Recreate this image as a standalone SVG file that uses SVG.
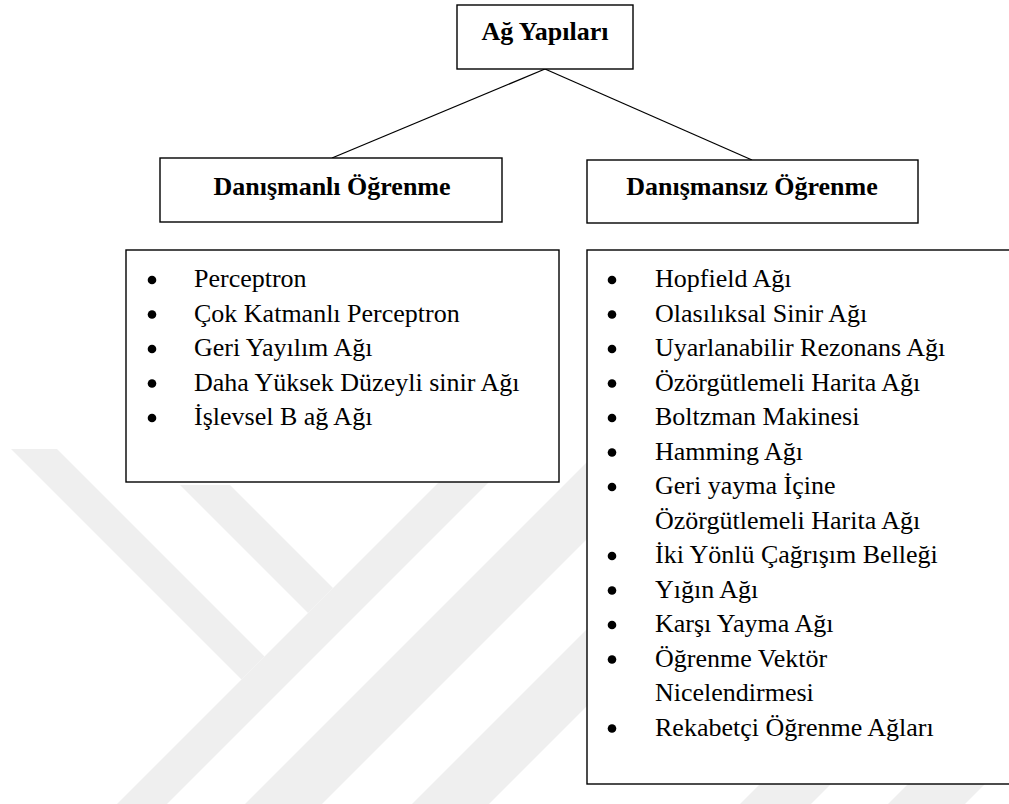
<svg xmlns="http://www.w3.org/2000/svg" width="1009" height="804" viewBox="0 0 1009 804">
  <style>
    .box { fill: #ffffff; stroke: #000000; stroke-width: 1.4; }
    .head { font-family: "Liberation Serif", "Times New Roman", serif; font-weight: bold; font-size: 26px; fill: #000; text-anchor: middle; }
    .item { font-family: "Liberation Serif", "Times New Roman", serif; font-size: 26px; fill: #000; }
    .dot { fill: #000; }
    .edge { stroke: #000; stroke-width: 1.3; fill: none; }
    .wm { fill: #efefef; }
  </style>

  <rect x="0" y="0" width="1009" height="804" fill="#ffffff"/>

  <!-- faint background emblem -->
  <g id="emblem">
    <polygon class="wm" points="11,449 57,449 264.5,656.5 241.5,679.5"/>
    <polygon class="wm" points="180,485 230,485 333,588 308,613"/>
    <polygon class="wm" points="117,804 167,804 531,440 481,440"/>
    <polygon class="wm" points="245,804 322,804 876,250 799,250"/>
    <polygon class="wm" points="412,804 489,804 693,600 616,600"/>
    <polygon class="wm" points="740,804 811,804 880,735 809,735"/>
    <polygon class="wm" points="888,804 965,804 1040,729 963,729"/>
  </g>

  <!-- connectors -->
  <g id="connectors">
    <line class="edge" x1="545" y1="69" x2="332" y2="158"/>
    <line class="edge" x1="545" y1="69" x2="752" y2="160"/>
  </g>

  <g id="root">
    <rect class="box" x="457" y="5" width="176" height="64"/>
    <text class="head" x="545" y="40">Ağ Yapıları</text>
  </g>

  <g id="supervised">
    <rect class="box" x="160" y="158" width="342" height="64"/>
    <text class="head" x="332" y="195">Danışmanlı Öğrenme</text>
  </g>

  <g id="unsupervised">
    <rect class="box" x="587" y="160" width="331" height="63"/>
    <text class="head" x="752" y="195">Danışmansız Öğrenme</text>
  </g>

  <g id="supervised-list">
    <rect class="box" x="126" y="250" width="433" height="232"/>
    <circle class="dot" cx="152" cy="280" r="4.3"/>
    <text class="item" x="194" y="287">Perceptron</text>
    <circle class="dot" cx="152" cy="314.5" r="4.3"/>
    <text class="item" x="194" y="321.5">Çok Katmanlı Perceptron</text>
    <circle class="dot" cx="152" cy="349" r="4.3"/>
    <text class="item" x="194" y="356">Geri Yayılım Ağı</text>
    <circle class="dot" cx="152" cy="383.5" r="4.3"/>
    <text class="item" x="194" y="390.5">Daha Yüksek Düzeyli sinir Ağı</text>
    <circle class="dot" cx="152" cy="418" r="4.3"/>
    <text class="item" x="194" y="425">İşlevsel B ağ Ağı</text>
  </g>

  <g id="unsupervised-list">
    <rect class="box" x="587" y="250" width="440" height="534"/>
    <circle class="dot" cx="612" cy="280" r="4.3"/>
    <text class="item" x="655" y="287">Hopfield Ağı</text>
    <circle class="dot" cx="612" cy="314.5" r="4.3"/>
    <text class="item" x="655" y="321.5">Olasılıksal Sinir Ağı</text>
    <circle class="dot" cx="612" cy="349" r="4.3"/>
    <text class="item" x="655" y="356">Uyarlanabilir Rezonans Ağı</text>
    <circle class="dot" cx="612" cy="383.5" r="4.3"/>
    <text class="item" x="655" y="390.5">Özörgütlemeli Harita Ağı</text>
    <circle class="dot" cx="612" cy="418" r="4.3"/>
    <text class="item" x="655" y="425">Boltzman Makinesi</text>
    <circle class="dot" cx="612" cy="452.5" r="4.3"/>
    <text class="item" x="655" y="459.5">Hamming Ağı</text>
    <circle class="dot" cx="612" cy="487" r="4.3"/>
    <text class="item" x="655" y="494">Geri yayma İçine</text>
    <text class="item" x="655" y="528.5">Özörgütlemeli Harita Ağı</text>
    <circle class="dot" cx="612" cy="556" r="4.3"/>
    <text class="item" x="655" y="563">İki Yönlü Çağrışım Belleği</text>
    <circle class="dot" cx="612" cy="590.5" r="4.3"/>
    <text class="item" x="655" y="597.5">Yığın Ağı</text>
    <circle class="dot" cx="612" cy="625" r="4.3"/>
    <text class="item" x="655" y="632">Karşı Yayma Ağı</text>
    <circle class="dot" cx="612" cy="659.5" r="4.3"/>
    <text class="item" x="655" y="666.5">Öğrenme Vektör</text>
    <text class="item" x="655" y="701">Nicelendirmesi</text>
    <circle class="dot" cx="612" cy="728.5" r="4.3"/>
    <text class="item" x="655" y="735.5">Rekabetçi Öğrenme Ağları</text>
  </g>
</svg>
